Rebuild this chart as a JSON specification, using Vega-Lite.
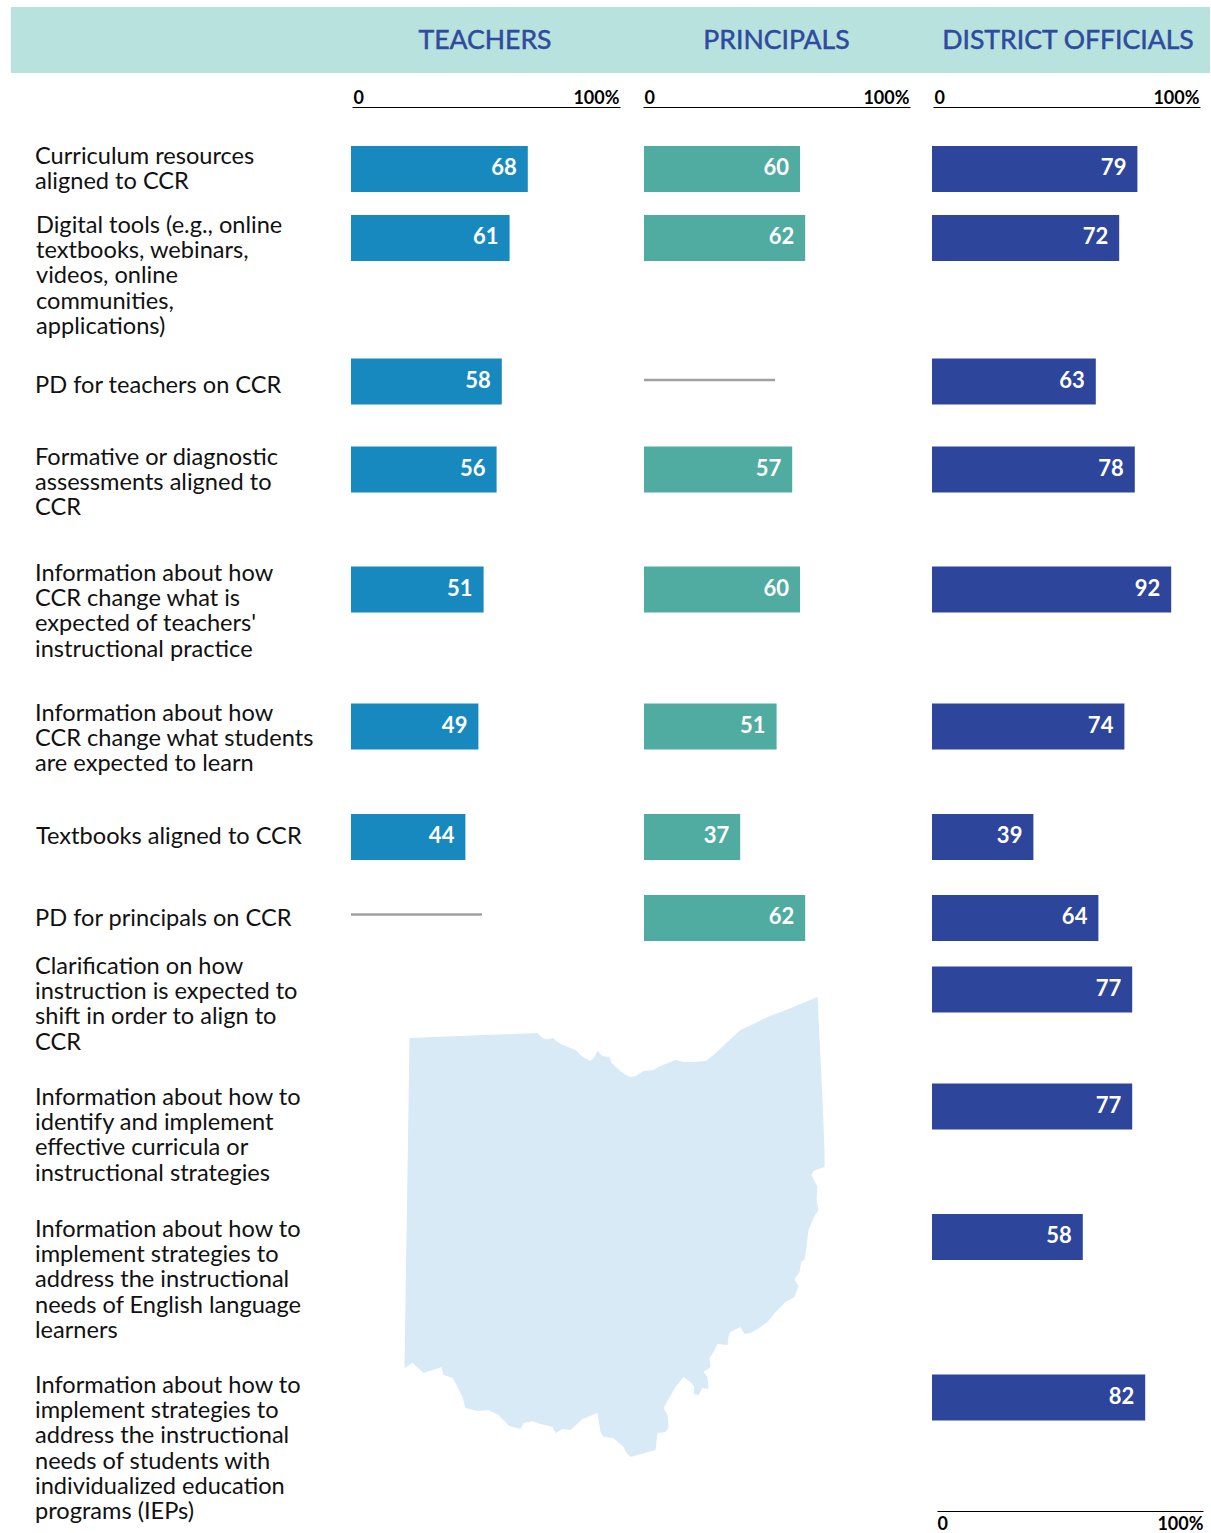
{
"$schema":"https://vega.github.io/schema/vega-lite/v6.json",
"width":1211,"height":1533,"padding":0,
"autosize":{"type":"fit","contains":"padding"},
"background":"white",
"config":{"view":{"stroke":null},"text":{"font":"Lato"},"axis":{"labelFont":"Lato"}},
"datasets":{
"band":[{"start":0,"end":1,"top":0,"bottom":1}],
"titles":[{"title":"TEACHERS"},{"title":"PRINCIPALS"},{"title":"DISTRICT OFFICIALS"}],
"scale100":[{"pct":0},{"pct":100}],
"categories":[
{"rank":1,"indent":0,"label":"Curriculum resources\naligned to CCR"},
{"rank":2,"indent":1,"label":"Digital tools (e.g., online\ntextbooks, webinars,\nvideos, online\ncommunities,\napplications)"},
{"rank":3,"indent":0,"label":"PD for teachers on CCR"},
{"rank":4,"indent":0,"label":"Formative or diagnostic\nassessments aligned to\nCCR"},
{"rank":5,"indent":0,"label":"Information about how\nCCR change what is\nexpected of teachers'\ninstructional practice"},
{"rank":6,"indent":0,"label":"Information about how\nCCR change what students\nare expected to learn"},
{"rank":7,"indent":1,"label":"Textbooks aligned to CCR"},
{"rank":8,"indent":0,"label":"PD for principals on CCR"},
{"rank":9,"indent":0,"label":"Clarification on how\ninstruction is expected to\nshift in order to align to\nCCR"},
{"rank":10,"indent":0,"label":"Information about how to\nidentify and implement\neffective curricula or\ninstructional strategies"},
{"rank":11,"indent":0,"label":"Information about how to\nimplement strategies to\naddress the instructional\nneeds of English language\nlearners"},
{"rank":12,"indent":0,"label":"Information about how to\nimplement strategies to\naddress the instructional\nneeds of students with\nindividualized education\nprograms (IEPs)"}
],
"rows":[
{"rank":1,"group":"Teachers","value":68},{"rank":2,"group":"Teachers","value":61},{"rank":3,"group":"Teachers","value":58},{"rank":4,"group":"Teachers","value":56},{"rank":5,"group":"Teachers","value":51},{"rank":6,"group":"Teachers","value":49},{"rank":7,"group":"Teachers","value":44},
{"rank":1,"group":"Principals","value":60},{"rank":2,"group":"Principals","value":62},{"rank":4,"group":"Principals","value":57},{"rank":5,"group":"Principals","value":60},{"rank":6,"group":"Principals","value":51},{"rank":7,"group":"Principals","value":37},{"rank":8,"group":"Principals","value":62},
{"rank":1,"group":"District","value":79},{"rank":2,"group":"District","value":72},{"rank":3,"group":"District","value":63},{"rank":4,"group":"District","value":78},{"rank":5,"group":"District","value":92},{"rank":6,"group":"District","value":74},{"rank":7,"group":"District","value":39},{"rank":8,"group":"District","value":64},{"rank":9,"group":"District","value":77},{"rank":10,"group":"District","value":77},{"rank":11,"group":"District","value":58},{"rank":12,"group":"District","value":82}
],
"gaps":[{"rank":3,"group":"Principals","from":0,"to":50.4},{"rank":8,"group":"Teachers","from":0,"to":50.4}]
},
"resolve":{"scale":{"x":"independent","y":"independent"},"axis":{"x":"independent","y":"independent"}},
"layer":[
{"data":{"name":"band"},"mark":{"type":"rect","color":"#b7e2dd"},
 "encoding":{"x":{"field":"start","type":"quantitative","axis":null,"scale":{"domain":[0,1],"range":[11,1210]}},"x2":{"field":"end"},
 "y":{"field":"top","type":"quantitative","axis":null,"scale":{"domain":[0,1],"range":[7,73]}},"y2":{"field":"bottom"}}},
{"data":{"name":"titles"},"mark":{"type":"text","font":"Lato","fontSize":26.6,"fontWeight":"normal","color":"#2f4a9f","stroke":"#2f4a9f","strokeWidth":0.5,"align":"center","baseline":"middle"},
 "encoding":{"x":{"field":"title","type":"nominal","axis":null,"sort":null,"scale":{"type":"point","padding":0,"domain":["TEACHERS","PRINCIPALS","DISTRICT OFFICIALS"],"range":[485,1068]}},
 "y":{"datum":0,"type":"quantitative","axis":null,"scale":{"domain":[0,1],"range":[41,72]}},
 "text":{"field":"title"}}},
{"data":{"values":[{"type":"Feature","properties":{"name":"Ohio"},"geometry":{"type":"Polygon","coordinates":[[[1.25,105],[33.25,106.25],[34.5,105],[35.5,104.6],[37,105],[39,103.5],[42.75,102],[44.5,100.25],[46.5,99.25],[47.5,100.25],[48.25,101.75],[49.5,100.5],[51.25,100.25],[51.75,98.75],[54.5,96.25],[56.5,95.25],[57.75,95.5],[59.75,96.75],[62.25,97],[64,98],[67.75,99.5],[69.75,99],[72.25,99],[75.25,99.25],[77.25,100.75],[84,107],[87.25,108.5],[90.75,110.25],[94.75,111.75],[103.25,115.25],[104.5,89.5],[105,77],[105,72.75],[103.5,72.25],[102.25,71.75],[101.75,70.75],[103.25,67.75],[103,64.5],[103.5,62],[102.25,60],[101,57],[100.5,52.75],[100,49.5],[99.25,49.25],[98.75,46.5],[97.5,44.75],[98.5,43],[97.5,40.25],[95.25,39],[92.75,36.5],[90.75,34],[88.25,32.25],[86.5,31.25],[85,31],[84,32.75],[81.5,31.5],[81,30.25],[80.75,28.25],[78.25,28.5],[77.25,26.5],[76.25,25],[76.5,22.75],[74.75,21.5],[75.75,20.25],[76,17.25],[74.5,17.5],[73.5,15.75],[72.25,16],[72.5,17.75],[71.5,19],[69.75,20.25],[67.75,17.75],[64.75,12.5],[65.75,10.75],[66,7.5],[65.25,6.5],[63.25,6.25],[62.75,2],[56.5,0.25],[55.5,1.25],[54.75,2.75],[52.25,5],[49.75,5.25],[49,6.5],[48.25,11.25],[44.5,9.75],[41.5,7],[39.5,7.25],[37.75,6.25],[37,7.75],[34,8.5],[32,9.25],[29.75,8.75],[29,7.25],[26.25,8],[23.5,10.75],[21,12],[18.25,11.75],[15.25,12.5],[14.5,15.25],[12.75,18.75],[12,20],[9.75,20.75],[9.25,22.75],[4.75,21.25],[2,23.75],[0,22.5],[1.25,105]]]}}]},
 "projection":{"type":"identity","reflectY":true,"scale":4,"translate":[404.5,1458]},
 "mark":{"type":"geoshape","fill":"#d7eaf5","stroke":null},"encoding":{}},
{"data":{"name":"scale100"},"mark":{"type":"point","opacity":0},
 "encoding":{"x":{"field":"pct","type":"quantitative","scale":{"domain":[0,100],"range":[352,620]},
 "axis":{"orient":"top","offset":-107,"values":[0,100],"title":null,"ticks":false,"grid":false,"labelFlush":true,"labelFlushOffset":-1,"labelOverlap":false,"labelBound":false,"labelExpr":"datum.value==100?'100%':'0'","labelFont":"Lato","labelFontSize":18,"labelFontWeight":"bold","labelColor":"#000000","labelPadding":0,"domainColor":"#000000","domainWidth":1}}}},
{"data":{"name":"scale100"},"mark":{"type":"point","opacity":0},
 "encoding":{"x":{"field":"pct","type":"quantitative","scale":{"domain":[0,100],"range":[643,910]},
 "axis":{"orient":"top","offset":-107,"values":[0,100],"title":null,"ticks":false,"grid":false,"labelFlush":true,"labelFlushOffset":-1,"labelOverlap":false,"labelBound":false,"labelExpr":"datum.value==100?'100%':'0'","labelFont":"Lato","labelFontSize":18,"labelFontWeight":"bold","labelColor":"#000000","labelPadding":0,"domainColor":"#000000","domainWidth":1}}}},
{"data":{"name":"scale100"},"mark":{"type":"point","opacity":0},
 "encoding":{"x":{"field":"pct","type":"quantitative","scale":{"domain":[0,100],"range":[933,1200]},
 "axis":{"orient":"top","offset":-107,"values":[0,100],"title":null,"ticks":false,"grid":false,"labelFlush":true,"labelFlushOffset":-1,"labelOverlap":false,"labelBound":false,"labelExpr":"datum.value==100?'100%':'0'","labelFont":"Lato","labelFontSize":18,"labelFontWeight":"bold","labelColor":"#000000","labelPadding":0,"domainColor":"#000000","domainWidth":1}}}},
{"data":{"name":"scale100"},"mark":{"type":"point","opacity":0},
 "encoding":{"x":{"field":"pct","type":"quantitative","scale":{"domain":[0,100],"range":[937,1203]},
 "axis":{"orient":"bottom","offset":-22,"values":[0,100],"title":null,"ticks":false,"grid":false,"labelFlush":true,"labelOverlap":false,"labelBound":false,"labelExpr":"datum.value==100?'100%':'0'","labelFont":"Lato","labelFontSize":18,"labelFontWeight":"bold","labelColor":"#000000","labelPadding":4,"domainColor":"#000000","domainWidth":1}}}},
{"data":{"name":"rows"},"transform":[{"filter":"datum.group=='Teachers'"}],"mark":{"type":"bar","orient":"horizontal","size":46,"color":"#1789bf"},
 "encoding":{"x":{"field":"value","type":"quantitative","stack":null,"axis":null,"scale":{"domain":[0,100],"range":[351,611]}},
 "y":{"field":"rank","type":"quantitative","axis":null,"scale":{"domain":[1,2,3,4,5,6,7,8,9,10,11,12],"range":[169,238,381.5,469.5,589.5,726.5,837,918,989.5,1106.5,1237,1397.5],"nice":false,"zero":false,"padding":0}}}},
{"data":{"name":"rows"},"transform":[{"filter":"datum.group=='Principals'"}],"mark":{"type":"bar","orient":"horizontal","size":46,"color":"#50aba1"},
 "encoding":{"x":{"field":"value","type":"quantitative","stack":null,"axis":null,"scale":{"domain":[0,100],"range":[644,904]}},
 "y":{"field":"rank","type":"quantitative","axis":null,"scale":{"domain":[1,2,3,4,5,6,7,8,9,10,11,12],"range":[169,238,381.5,469.5,589.5,726.5,837,918,989.5,1106.5,1237,1397.5],"nice":false,"zero":false,"padding":0}}}},
{"data":{"name":"rows"},"transform":[{"filter":"datum.group=='District'"}],"mark":{"type":"bar","orient":"horizontal","size":46,"color":"#2d469c"},
 "encoding":{"x":{"field":"value","type":"quantitative","stack":null,"axis":null,"scale":{"domain":[0,100],"range":[932,1192]}},
 "y":{"field":"rank","type":"quantitative","axis":null,"scale":{"domain":[1,2,3,4,5,6,7,8,9,10,11,12],"range":[169,238,381.5,469.5,589.5,726.5,837,918,989.5,1106.5,1237,1397.5],"nice":false,"zero":false,"padding":0}}}},
{"data":{"name":"rows"},"transform":[{"filter":"datum.group=='Teachers'"}],"mark":{"type":"text","font":"Lato","fontSize":22,"fontWeight":"bold","color":"white","align":"right","baseline":"middle","dx":-11,"dy":-1},
 "encoding":{"x":{"field":"value","type":"quantitative","stack":null,"axis":null,"scale":{"domain":[0,100],"range":[351,611]}},
 "y":{"field":"rank","type":"quantitative","axis":null,"scale":{"domain":[1,2,3,4,5,6,7,8,9,10,11,12],"range":[169,238,381.5,469.5,589.5,726.5,837,918,989.5,1106.5,1237,1397.5],"nice":false,"zero":false}},
 "text":{"field":"value","type":"quantitative"}}},
{"data":{"name":"rows"},"transform":[{"filter":"datum.group=='Principals'"}],"mark":{"type":"text","font":"Lato","fontSize":22,"fontWeight":"bold","color":"white","align":"right","baseline":"middle","dx":-11,"dy":-1},
 "encoding":{"x":{"field":"value","type":"quantitative","stack":null,"axis":null,"scale":{"domain":[0,100],"range":[644,904]}},
 "y":{"field":"rank","type":"quantitative","axis":null,"scale":{"domain":[1,2,3,4,5,6,7,8,9,10,11,12],"range":[169,238,381.5,469.5,589.5,726.5,837,918,989.5,1106.5,1237,1397.5],"nice":false,"zero":false}},
 "text":{"field":"value","type":"quantitative"}}},
{"data":{"name":"rows"},"transform":[{"filter":"datum.group=='District'"}],"mark":{"type":"text","font":"Lato","fontSize":22,"fontWeight":"bold","color":"white","align":"right","baseline":"middle","dx":-11,"dy":-1},
 "encoding":{"x":{"field":"value","type":"quantitative","stack":null,"axis":null,"scale":{"domain":[0,100],"range":[932,1192]}},
 "y":{"field":"rank","type":"quantitative","axis":null,"scale":{"domain":[1,2,3,4,5,6,7,8,9,10,11,12],"range":[169,238,381.5,469.5,589.5,726.5,837,918,989.5,1106.5,1237,1397.5],"nice":false,"zero":false}},
 "text":{"field":"value","type":"quantitative"}}},
{"data":{"name":"gaps"},"transform":[{"filter":"datum.group=='Teachers'"}],"mark":{"type":"rule","color":"#a0a0a3","strokeWidth":2.5,"yOffset":-3.5},
 "encoding":{"x":{"field":"from","type":"quantitative","axis":null,"scale":{"domain":[0,100],"range":[351,611]}},"x2":{"field":"to"},
 "y":{"field":"rank","type":"quantitative","axis":null,"scale":{"domain":[1,2,3,4,5,6,7,8,9,10,11,12],"range":[169,238,381.5,469.5,589.5,726.5,837,918,989.5,1106.5,1237,1397.5],"nice":false,"zero":false}}}},
{"data":{"name":"gaps"},"transform":[{"filter":"datum.group=='Principals'"}],"mark":{"type":"rule","color":"#a0a0a3","strokeWidth":2.5,"yOffset":-1.5},
 "encoding":{"x":{"field":"from","type":"quantitative","axis":null,"scale":{"domain":[0,100],"range":[644,904]}},"x2":{"field":"to"},
 "y":{"field":"rank","type":"quantitative","axis":null,"scale":{"domain":[1,2,3,4,5,6,7,8,9,10,11,12],"range":[169,238,381.5,469.5,589.5,726.5,837,918,989.5,1106.5,1237,1397.5],"nice":false,"zero":false}}}},
{"data":{"name":"categories"},"mark":{"type":"text","font":"Lato","fontSize":23.6,"color":"#111111","align":"left","baseline":"alphabetic","lineBreak":"\n","lineHeight":25.2},
 "encoding":{"x":{"field":"indent","type":"quantitative","axis":null,"scale":{"domain":[0,1],"range":[35,36]}},
 "y":{"field":"rank","type":"quantitative","axis":null,"scale":{"domain":[1,2,3,4,5,6,7,8,9,10,11,12],"range":[164,233,393,465,581,721,844,926,974,1105,1237,1393],"nice":false,"zero":false}},
 "text":{"field":"label"}}}
]
}
